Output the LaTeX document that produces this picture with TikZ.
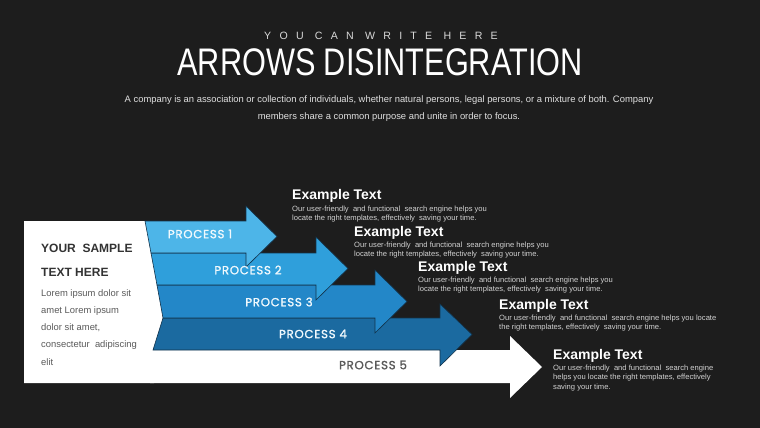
\documentclass[tikz,border=0pt]{standalone}
\usepackage{fontspec}
\setmainfont{Liberation Sans}
\newfontfamily\spacedfont[LetterSpace=78]{Liberation Sans}
\newfontfamily\procfont[LetterSpace=6, FakeBold=1.2]{Poppins}
\definecolor{bg}{HTML}{1D1D1D}
\definecolor{pone}{HTML}{4DB5E8}
\definecolor{ptwo}{HTML}{2F9FDB}
\definecolor{pthree}{HTML}{2387C8}
\definecolor{pfour}{HTML}{1B6AA0}
\definecolor{edge}{HTML}{12324A}
\definecolor{bodygrey}{HTML}{D2D2D2}
\definecolor{boxtext}{HTML}{333333}
\definecolor{loremgrey}{HTML}{5A5A5A}
\tikzset{
  arrowshape/.style={draw=edge, line width=0.6pt, line join=miter},
  proclabel/.style={font=\procfont\fontsize{11.8}{12}\selectfont, text=white!92!pone, inner sep=0pt},
  extitle/.style={font=\bfseries\fontsize{14}{16}\selectfont, text=white, anchor=west, inner sep=0pt},
  exbody/.style={font=\fontsize{7.6}{9.2}\selectfont, text=bodygrey, anchor=north west, inner sep=0pt, align=left},
}
\begin{document}
\begin{tikzpicture}[x=1pt,y=-1pt]
\fill[bg] (0,0) rectangle (760,428);
\useasboundingbox (0,0) rectangle (760,428);

% header
\node[font=\spacedfont\fontsize{10.6}{12}\selectfont, text=white!85!black] (sub) at (381,36) {YOU CAN WRITE HERE};
\node[font=\fontsize{31}{34}\selectfont, text=white] (title) at (380,62.5) {\scalebox{0.99}[1.24]{ARROWS DISINTEGRATION}};
\node[font=\fontsize{9.4}{16.5}\selectfont, text=white!88!black, align=center] (para) at (389,108.5)
  {A company is an association or collection of individuals, whether natural persons, legal persons, or a mixture of both. Company\\ members share a common purpose and unite in order to focus.};

% white box
\fill[white] (24,221) -- (146,221) -- (164,318) -- (154,350) -- (154,383) -- (24,383) -- cycle;

% arrows (drawn bottom up so earlier heads overlap later bands)
\fill[white] (150,350) -- (510,350) -- (510,336) -- (542,367) -- (510,398) -- (510,383) -- (150,383) -- cycle;
\filldraw[arrowshape, fill=pfour] (163,318) -- (440,318) -- (440,304) -- (472,334.5) -- (440,366) -- (440,350) -- (153,350) -- cycle;
\filldraw[arrowshape, fill=pthree] (157,285) -- (375,285) -- (375,270) -- (407,301.5) -- (375,333) -- (375,318) -- (163,318) -- cycle;
\filldraw[arrowshape, fill=ptwo] (151,253) -- (316,253) -- (316,237) -- (348,268.5) -- (316,300) -- (316,285) -- (157,285) -- cycle;
\filldraw[arrowshape, fill=pone] (145,221) -- (246,221) -- (246,206) -- (277,236.5) -- (246,267) -- (246,253) -- (151,253) -- cycle;

\node[proclabel] (l1) at (200,234) {PROCESS 1};
\node[proclabel] (l2) at (248,270) {PROCESS 2};
\node[proclabel] (l3) at (279,302) {PROCESS 3};
\node[proclabel] (l4) at (313,334) {PROCESS 4};
\node[proclabel, text=loremgrey] (l5) at (373,365) {PROCESS 5};

% white box text
\node[font=\bfseries\fontsize{12}{14}\selectfont, text=boxtext, anchor=west, inner sep=0pt] (ys) at (41,248) {YOUR\ \ SAMPLE};
\node[font=\bfseries\fontsize{12}{14}\selectfont, text=boxtext, anchor=west, inner sep=0pt] (th) at (41,272) {TEXT HERE};
\node[font=\fontsize{9.4}{17.3}\selectfont, text=loremgrey, anchor=north west, inner sep=0pt, align=left] (lorem) at (41,289)
  {Lorem ipsum dolor sit\\amet Lorem ipsum\\dolor sit amet,\\consectetur\ \ adipiscing\\elit};

% example texts
\node[extitle] (t1) at (292,196) {Example Text};
\node[exbody] (b1) at (292,206) {Our user-friendly\ \ and functional\ \ search engine helps you\\locate the right templates, effectively\ \ saving your time.};
\node[extitle] (t2) at (354,233) {Example Text};
\node[exbody] (b2) at (354,242) {Our user-friendly\ \ and functional\ \ search engine helps you\\locate the right templates, effectively\ \ saving your time.};
\node[extitle] (t3) at (418,268) {Example Text};
\node[exbody] (b3) at (418,277) {Our user-friendly\ \ and functional\ \ search engine helps you\\locate the right templates, effectively\ \ saving your time.};
\node[extitle] (t4) at (499,306) {Example Text};
\node[exbody] (b4) at (499,315) {Our user-friendly\ \ and functional\ \ search engine helps you locate\\the right templates, effectively\ \ saving your time.};
\node[extitle] (t5) at (553,356) {Example Text};
\node[exbody] (b5) at (553,365) {Our user-friendly\ \ and functional\ \ search engine\\helps you locate the right templates, effectively\\saving your time.};
\end{tikzpicture}
\end{document}
